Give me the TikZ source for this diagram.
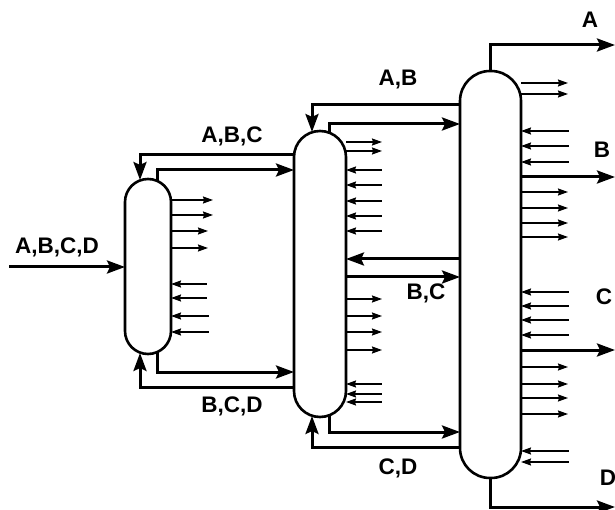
\documentclass[tikz,border=0pt]{standalone}
\usepackage{fontspec}
\setmainfont{Liberation Sans}
\usetikzlibrary{arrows.meta}
\tikzset{
    tower/.style={draw, line width=2.6pt, rectangle, outer sep=0pt, inner sep=0pt},
    mainline/.style={line width=3pt, -{Stealth[length=18pt, width=13pt, inset=3pt]}},
    stubout/.style={line width=1.4pt, -{Stealth[length=10pt, width=7pt, inset=1pt]}},
    stubin/.style={line width=1.4pt, {Stealth[length=10pt, width=7pt, inset=1pt]}-},
    streamlabel/.style={font=\fontsize{22.5}{22.5}\selectfont\bfseries, inner sep=0pt}
}

\begin{document}
\begin{tikzpicture}[x=1pt, y=-1pt]
    \useasboundingbox (0,0) rectangle (615,510);

    % The three columns
    \node (col1) at (148,266.5) [tower, minimum width=46pt, minimum height=175pt, rounded corners=23pt] {};
    \node (col2) at (320,274) [tower, minimum width=52pt, minimum height=286pt, rounded corners=26pt] {};
    \node (col3) at (490.5,274.5) [tower, minimum width=61pt, minimum height=407pt, rounded corners=30pt] {};

    % Free ends of the feed and the products
    \coordinate (feed) at (9,267);
    \coordinate (prodA) at (615,45);
    \coordinate (prodB) at (615,177);
    \coordinate (prodC) at (615,350);
    \coordinate (prodD) at (615,507);

    % Feed and products
    \draw[mainline] (feed) -- (col1.west |- feed);
    \draw[mainline] (col3.north) |- (prodA);
    \draw[mainline] (col3.east |- prodB) -- (prodB);
    \draw[mainline] (col3.east |- prodC) -- (prodC);
    \draw[mainline] (col3.south) |- (prodD);

    % Between column 1 and column 2
    \draw[mainline] (col2.west |- 0,155) -| ([xshift=-8pt, yshift=-1pt]col1.north);
    \draw[mainline] ([xshift=9pt, yshift=-2pt]col1.north) |- (col2.west |- 0,170);
    \draw[mainline] ([xshift=9pt, yshift=2pt]col1.south) |- (col2.west |- 0,372);
    \draw[mainline] (col2.west |- 0,387) -| ([xshift=-8pt, yshift=1pt]col1.south);

    % Between column 2 and column 3
    \draw[mainline] (col3.west |- 0,105) -| ([xshift=-8pt, yshift=-1pt]col2.north);
    \draw[mainline] ([xshift=9pt, yshift=-2pt]col2.north) |- (col3.west |- 0,124);
    \draw[mainline] (col3.west |- 0,259) -- (col2.east |- 0,259);
    \draw[mainline] (col2.east |- 0,277) -- (col3.west |- 0,277);
    \draw[mainline] ([xshift=9pt, yshift=2pt]col2.south) |- (col3.west |- 0,432);
    \draw[mainline] (col3.west |- 0,447) -| ([xshift=-8pt, yshift=1pt]col2.south);

    % Side streams of column 1
    \foreach \x/\y in {213/200, 213/215, 208/231, 208/248} {
        \coordinate (stub) at (\x,\y);
        \draw[stubout] (col1.east |- stub) -- (stub);
    }
    \foreach \x/\y in {207/284, 207/298, 209/316, 209/332} {
        \coordinate (stub) at (\x,\y);
        \draw[stubin] (col1.east |- stub) -- (stub);
    }

    % Side streams of column 2
    \foreach \y in {142, 151, 299, 316, 332, 350} {
        \coordinate (stub) at (382,\y);
        \draw[stubout] (col2.east |- stub) -- (stub);
    }
    \foreach \y in {170, 185, 201, 216, 231, 384, 394, 402} {
        \coordinate (stub) at (382,\y);
        \draw[stubin] (col2.east |- stub) -- (stub);
    }

    % Side streams of column 3
    \foreach \y in {83, 94, 192, 208, 223, 237, 367, 384, 398, 414} {
        \coordinate (stub) at (568,\y);
        \draw[stubout] (col3.east |- stub) -- (stub);
    }
    \foreach \y in {131, 146, 162, 292, 306, 320, 335, 451, 462} {
        \coordinate (stub) at (569,\y);
        \draw[stubin] (col3.east |- stub) -- (stub);
    }

    % Label the streams
    \node (lblfeed) at (57,247) [streamlabel] {A,B,C,D};
    \node (lblabc) at (232,136) [streamlabel] {A,B,C};
    \node (lblbcd) at (232,406) [streamlabel] {B,C,D};
    \node (lblab) at (398,80) [streamlabel] {A,B};
    \node (lblbc) at (426,293) [streamlabel] {B,C};
    \node (lblcd) at (398,468) [streamlabel] {C,D};
    \node (lblA) at (590,20) [streamlabel] {A};
    \node (lblB) at (602,150) [streamlabel] {B};
    \node (lblC) at (604,297) [streamlabel] {C};
    \node (lblD) at (608,478) [streamlabel] {D};
\end{tikzpicture}
\end{document}
